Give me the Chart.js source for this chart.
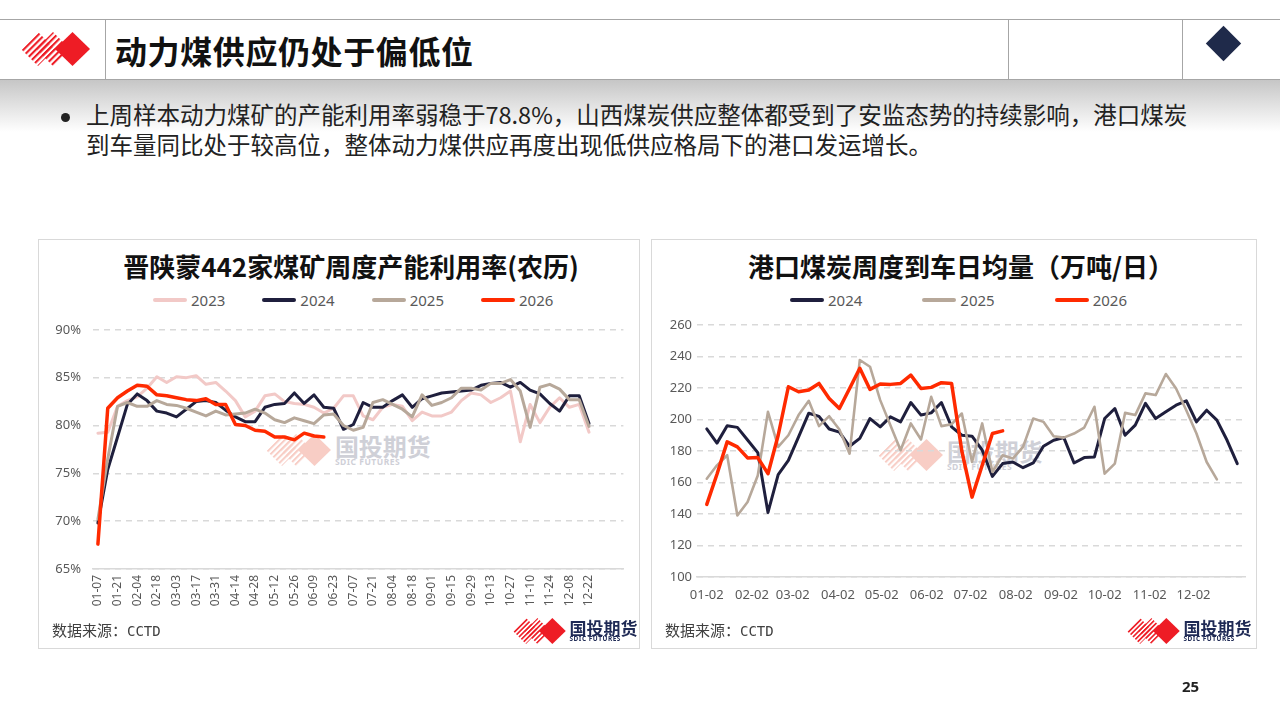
<!DOCTYPE html>
<html>
<head>
<meta charset="utf-8">
<script src="https://cdn.jsdelivr.net/npm/chart.js@4.4.1/dist/chart.umd.min.js"></script>
<style>
  body { margin: 0; width: 1280px; height: 720px; background: #fff; position: relative; overflow: hidden;
         font-family: "Noto Sans CJK SC", "Noto Sans", sans-serif; color: #222; }
  .abs { position: absolute; }
  .hline { position: absolute; height: 0; border-top: 1px solid #a6a6a6; }
  .vline { position: absolute; width: 0; border-left: 1px solid #a6a6a6; }
  .panel { position: absolute; border: 1px solid #d9d9d9; box-sizing: border-box; }
  .ctitle { position: absolute; font-weight: 700; font-size: 26px; color: #111; white-space: nowrap; transform: translate(-50%, -50%); }
  .legend { position: absolute; display: flex; align-items: center; font-family: "Noto Sans", sans-serif; font-size: 15px; color: #595959; }
  .legend span.item { display: flex; align-items: center; }
  .legend i { display: inline-block; width: 34px; height: 4px; border-radius: 2px; margin-right: 4px; }
  .src { position: absolute; font-size: 15px; color: #404040; }
  .src b { font-weight: 400; font-family: "DejaVu Sans Mono", monospace; font-size: 14px; }
  .logo { position: absolute; display: flex; align-items: center; }
  .logo .txt { margin-left: 3px; line-height: 1; }
  .logo .cn { font-weight: 700; color: #1f2a55; }
  .logo .en { font-family: "Noto Sans", sans-serif; font-weight: 700; color: #1f2a55; letter-spacing: 0.5px; }
</style>
</head>
<body>
<!-- header -->
<div class="hline" style="left:0;top:19px;width:1280px;"></div>
<div class="hline" style="left:0;top:79px;width:1280px;"></div>
<div class="vline" style="left:105px;top:19px;height:60px;"></div>
<div class="vline" style="left:1008px;top:19px;height:60px;"></div>
<div class="vline" style="left:1182px;top:19px;height:60px;"></div>
<div class="abs" style="left:0;top:80px;width:1280px;height:52px;background:linear-gradient(#c6c6c6,#ffffff);"></div>

<svg class="abs" style="left:21px;top:32px;" width="70" height="34" viewBox="0 0 70 34">
  <defs>
    <pattern id="h0" width="4.4" height="4.4" patternUnits="userSpaceOnUse" patternTransform="rotate(-45)">
      <rect width="4.4" height="2.1" fill="#ee1c25"/>
    </pattern>
  </defs>
  <polygon points="0,17 17,0 34,17 17,34" fill="url(#h0)"/>
  <polygon points="15,17 32,0 49,17 32,34" fill="url(#h0)"/>
  <polygon points="34,17 51.5,0 69,17 51.5,34" fill="#ee1c25"/>
</svg>
<div class="abs" style="left:115px;top:27px;font-size:32px;font-weight:700;color:#111;letter-spacing:0.6px;">动力煤供应仍处于偏低位</div>
<div class="abs" style="left:1211px;top:31px;width:25px;height:25px;background:#1f2a4a;transform:rotate(45deg);"></div>

<div class="abs" style="left:61px;top:113px;width:9px;height:9px;border-radius:50%;background:#222;"></div>
<div class="abs" style="left:86px;top:99px;font-size:23.5px;line-height:30px;color:#222;white-space:nowrap;">
上周样本动力煤矿的产能利用率弱稳于78.8%，山西煤炭供应整体都受到了安监态势的持续影响，港口煤炭<br>到车量同比处于较高位，整体动力煤供应再度出现低供应格局下的港口发运增长。
</div>

<!-- panels -->
<div class="panel" style="left:38px;top:239px;width:602px;height:410px;"></div>
<div class="panel" style="left:651px;top:239px;width:606px;height:410px;"></div>

<div class="ctitle" style="left:351px;top:265px;">晋陕蒙442家煤矿周度产能利用率(农历)</div>
<div class="ctitle" style="left:961px;top:265px;">港口煤炭周度到车日均量（万吨/日）</div>

<div class="legend" id="legL" style="left:153px;top:290px;height:20px;"></div>
<div class="legend" id="legR" style="left:790px;top:290px;height:20px;"></div>

<!-- watermarks -->
<div class="logo" style="left:266px;top:434px;opacity:0.55;" id="wmL"></div>
<div class="logo" style="left:878px;top:439px;opacity:0.55;" id="wmR"></div>

<canvas id="capChart" class="abs" style="left:39px;top:310px;" width="600" height="320"></canvas>
<canvas id="portChart" class="abs" style="left:652px;top:310px;" width="603" height="320"></canvas>

<div class="src" style="left:52px;top:619px;">数据来源：<b>CCTD</b></div>
<div class="src" style="left:665px;top:619px;">数据来源：<b>CCTD</b></div>
<div class="logo" style="left:513px;top:618px;" id="lgL"></div>
<div class="logo" style="left:1127px;top:618px;" id="lgR"></div>

<div class="abs" style="left:1182px;top:676px;font-size:15px;font-weight:700;color:#222;font-family:'Noto Sans',sans-serif;">25</div>

<script>
// ---- 晋陕蒙442家煤矿周度产能利用率(农历), % ----
const capWeeks = ['01-07','01-14','01-21','01-28','02-04','02-11','02-18','02-25','03-03','03-10','03-17','03-24','03-31',
  '04-07','04-14','04-21','04-28','05-05','05-12','05-19','05-26','06-02','06-09','06-16','06-23','06-30',
  '07-07','07-14','07-21','07-28','08-04','08-11','08-18','08-25','09-01','09-08','09-15','09-22','09-29',
  '10-06','10-13','10-20','10-27','11-03','11-10','11-17','11-24','12-01','12-08','12-15','12-22','12-29','01-05','01-12'];
const capTicks = ['01-07','01-21','02-04','02-18','03-03','03-17','03-31','04-14','04-28','05-12','05-26','06-09','06-23',
  '07-07','07-21','08-04','08-18','09-01','09-15','09-29','10-13','10-27','11-10','11-24','12-08','12-22'];
const cap2023 = [79.2,79.3,82.0,82.6,83.0,83.9,85.1,84.5,85.1,85.0,85.2,84.3,84.5,83.6,82.6,80.9,81.5,83.1,83.3,82.5,
  82.3,82.2,81.9,81.3,81.8,83.1,83.1,81.0,80.6,81.9,82.2,82.0,80.5,81.4,81.0,81.0,81.4,82.6,83.4,83.2,
  82.4,82.9,83.6,78.3,82.2,80.3,81.9,82.9,81.9,82.2,79.3];
const cap2024 = [69.8,75.4,78.8,82.2,83.3,82.6,81.5,81.3,80.9,81.7,82.5,82.6,82.4,81.6,80.9,80.4,80.4,81.9,82.2,82.3,
  83.4,82.3,83.2,81.9,81.8,79.6,80.1,82.4,81.9,81.9,82.6,83.2,81.9,82.8,83.1,83.4,83.5,83.6,83.7,84.2,
  84.4,84.5,84.0,84.5,83.7,83.3,82.3,81.5,83.1,83.1,80.2];
const cap2025 = [70.2,76.5,82.0,82.4,82.0,82.0,82.6,82.2,82.1,81.8,81.4,81.0,81.5,81.1,81.2,81.3,81.7,81.3,80.6,80.3,
  80.8,80.5,80.2,81.1,81.2,80.0,79.5,79.8,82.4,82.7,82.2,81.7,80.9,83.2,82.1,82.4,82.9,83.9,83.9,83.7,
  84.4,84.4,84.8,83.6,79.8,84.0,84.3,83.8,82.7,82.7,79.9];
const cap2026 = [67.6,81.8,82.9,83.6,84.2,84.1,83.2,83.1,82.9,82.7,82.6,82.8,82.2,82.2,80.1,80.0,79.5,79.4,78.8,78.8,
  78.5,79.2,78.9,78.8];

// ---- 港口煤炭周度到车日均量（万吨/日） ----
const portWeeks = ['01-02','01-09','01-16','01-23','01-30','02-06','02-13','02-20','02-27','03-06','03-13','03-20','03-27',
  '04-03','04-10','04-17','04-24','05-01','05-08','05-15','05-22','05-29','06-05','06-12','06-19','06-26',
  '07-03','07-10','07-17','07-24','07-31','08-07','08-14','08-21','08-28','09-04','09-11','09-18','09-25',
  '10-02','10-09','10-16','10-23','10-30','11-06','11-13','11-20','11-27','12-04','12-11','12-18','12-25','01-01'];
const portTicks = ['01-02','02-02','03-02','04-02','05-02','06-02','07-02','08-02','09-02','10-02','11-02','12-02'];
const port2024 = [194,185,196,195,187,179,141,165,174,189,204,202,194,192,183,188,200.6,195.3,201.7,198.5,
  210.8,202.8,204.2,210.8,195.3,190,189.4,180.5,163.9,172,173,169.4,172.4,183,186.8,188.5,172.4,175.8,176.2,
  200.6,207,190,196.4,210.2,200.6,204.9,209.1,211.9,198.5,205.9,199.6,186.8,172];
const port2025 = [162.4,170.9,177.3,139.1,147.6,164.5,204.9,182.6,190,202.8,211.9,195.8,202.1,193.6,178.3,237.8,
  233.5,212.3,196.4,180.5,197.5,187.3,214.4,195.8,197,203.8,173,197.5,166.7,177.3,175.2,182.6,200.6,198.5,
  189.4,188.5,191.1,194.9,208.1,165.6,172,204.2,202.8,216.6,215.5,228.9,219.7,205.9,191.1,173,162];
const port2026 = [146.1,165.2,185.8,182.6,175.6,175.8,165.6,190,220.8,217.6,218.7,222.9,213.4,207,219.7,232.5,
  219.1,222.5,222.3,222.9,228.2,219.7,220.4,223.4,222.9,180,150.7,170.9,191.1,192.8];

const C_2023 = '#f2c9c7';
const C_2024 = '#1f1f3d';
const C_2025 = '#b7a89a';
const C_2026 = '#ff2a00';
const TICK_COLOR = '#595959';
const GRID_COLOR = '#d9d9d9';

Chart.defaults.font.family = '"Noto Sans", "Noto Sans CJK SC", sans-serif';
Chart.defaults.animation = false;

const MONTH_START = [0,31,59,90,120,151,181,212,243,273,304,334];
function dayOfYear(md) {
  const [m, d] = md.split('-').map(Number);
  return MONTH_START[m - 1] + d;
}
// week labels -> running day number (wraps into next year)
const portDays = [];
portWeeks.forEach((w, i) => {
  let d = dayOfYear(w);
  if (i > 0 && d < portDays[i - 1]) d += 365;
  portDays.push(d);
});
const toXY = arr => arr.map((v, i) => ({x: portDays[i], y: v}));

function lineSet(label, data, color, width, order) {
  return {
    label, data, order,
    borderColor: color, backgroundColor: color,
    borderWidth: width, pointRadius: 0, tension: 0,
    borderJoinStyle: 'round', borderCapStyle: 'round'
  };
}

function buildLegend(id, items, gap) {
  const el = document.getElementById(id);
  items.forEach(([txt, col], i) => {
    const s = document.createElement('span');
    s.className = 'item';
    s.style.marginRight = i < items.length - 1 ? gap + 'px' : '0';
    s.innerHTML = '<i style="background:' + col + '"></i>' + txt;
    el.appendChild(s);
  });
}
buildLegend('legL', [['2023', C_2023], ['2024', C_2024], ['2025', C_2025], ['2026', C_2026]], 37);
buildLegend('legR', [['2024', C_2024], ['2025', C_2025], ['2026', C_2026]], 60);

let logoN = 0;
function logoHTML(h, cnSize, enSize, color, txtColor) {
  const id = 'lp' + (logoN++);
  const w = h * 70 / 34;
  return '<svg width="' + w + '" height="' + h + '" viewBox="0 0 70 34">' +
    '<defs><pattern id="' + id + '" width="4.4" height="4.4" patternUnits="userSpaceOnUse" patternTransform="rotate(-45)">' +
    '<rect width="4.4" height="2.1" fill="' + color + '"/></pattern></defs>' +
    '<polygon points="0,17 17,0 34,17 17,34" fill="url(#' + id + ')"/>' +
    '<polygon points="15,17 32,0 49,17 32,34" fill="url(#' + id + ')"/>' +
    '<polygon points="34,17 51.5,0 69,17 51.5,34" fill="' + color + '"/></svg>' +
    '<div class="txt"><div class="cn" style="font-size:' + cnSize + 'px;color:' + txtColor + '">国投期货</div>' +
    '<div class="en" style="font-size:' + enSize + 'px;color:' + txtColor + '">SDIC FUTURES</div></div>';
}
document.getElementById('lgL').innerHTML = logoHTML(26, 17, 6.5, '#ee1c25', '#1f2a55');
document.getElementById('lgR').innerHTML = logoHTML(26, 17, 6.5, '#ee1c25', '#1f2a55');
document.getElementById('wmL').innerHTML = logoHTML(32, 24, 8.5, '#f3a597', '#a9aab8');
document.getElementById('wmR').innerHTML = logoHTML(32, 24, 8.5, '#f3a597', '#a9aab8');

new Chart(document.getElementById('capChart'), {
  type: 'line',
  data: {
    labels: capWeeks,
    datasets: [
      lineSet('2023', cap2023, C_2023, 3, 4),
      lineSet('2024', cap2024, C_2024, 3, 3),
      lineSet('2025', cap2025, C_2025, 3, 2),
      lineSet('2026', cap2026, C_2026, 3.5, 1)
    ]
  },
  options: {
    responsive: false,
    maintainAspectRatio: false,
    layout: {padding: {top: 14, right: 11, left: 0, bottom: 0}},
    plugins: {legend: {display: false}, tooltip: {enabled: false}},
    scales: {
      x: {
        offset: true,
        grid: {display: false, drawTicks: false},
        border: {color: GRID_COLOR, width: 1.5},
        ticks: {
          autoSkip: false, minRotation: 90, maxRotation: 90, padding: 6,
          color: TICK_COLOR, font: {size: 12},
          callback: (v, i) => capTicks.includes(capWeeks[i]) ? capWeeks[i] : ''
        },
        afterFit: s => { s.height = 61; }
      },
      y: {
        min: 65, max: 90,
        ticks: {stepSize: 5, padding: 12, color: TICK_COLOR, font: {size: 13}, callback: v => v + '%'},
        grid: {color: GRID_COLOR, lineWidth: 1.5, drawTicks: false},
        border: {display: false, dash: [6, 5]},
        afterFit: s => { s.width = 54; }
      }
    }
  }
});

new Chart(document.getElementById('portChart'), {
  type: 'line',
  data: {
    datasets: [
      lineSet('2024', toXY(port2024), C_2024, 3, 3),
      lineSet('2025', toXY(port2025), C_2025, 2.6, 2),
      lineSet('2026', toXY(port2026), C_2026, 3.5, 1)
    ]
  },
  options: {
    responsive: false,
    maintainAspectRatio: false,
    layout: {padding: {top: 15, right: 10, left: 0, bottom: 0}},
    plugins: {legend: {display: false}, tooltip: {enabled: false}},
    scales: {
      x: {
        type: 'linear', min: -4.7, max: 371.3,
        grid: {display: false, drawTicks: false},
        border: {color: GRID_COLOR, width: 1.5},
        afterBuildTicks: s => { s.ticks = portTicks.map(t => ({value: dayOfYear(t)})); },
        ticks: {
          autoSkip: false, maxRotation: 0, padding: 10,
          color: TICK_COLOR, font: {size: 13},
          callback: v => portTicks.find(t => dayOfYear(t) === v) || ''
        },
        afterFit: s => { s.height = 53; }
      },
      y: {
        min: 100, max: 260,
        ticks: {stepSize: 20, padding: 5, color: TICK_COLOR, font: {size: 13}},
        grid: {color: GRID_COLOR, lineWidth: 1.5, drawTicks: false},
        border: {display: false, dash: [6, 5]},
        afterFit: s => { s.width = 45; }
      }
    }
  }
});
</script>
</body>
</html>
